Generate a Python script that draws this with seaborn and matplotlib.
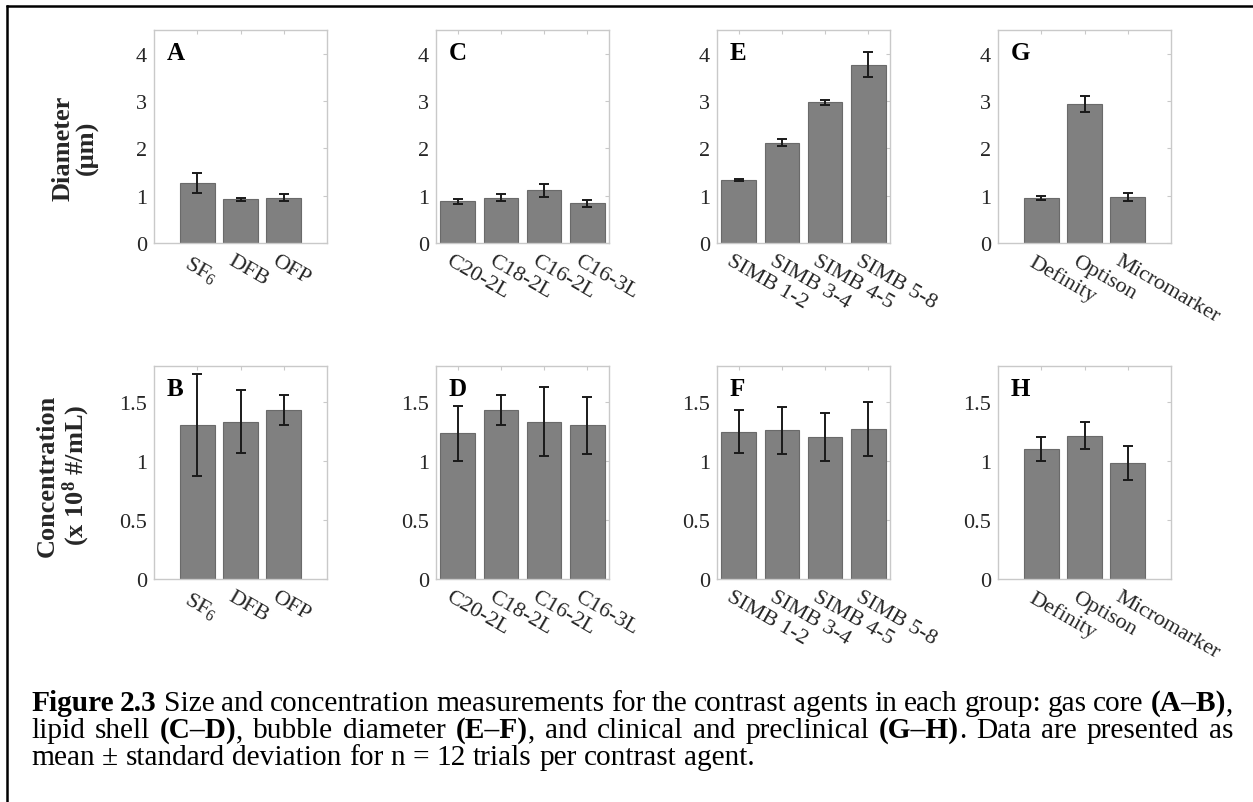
import numpy as np
import pandas as pd
import matplotlib
matplotlib.use("Agg")
import matplotlib.pyplot as plt
import seaborn as sns
from matplotlib.ticker import FuncFormatter, MultipleLocator
from matplotlib.lines import Line2D
from matplotlib.transforms import ScaledTranslation

# ---- data: mean and standard deviation per contrast agent ----
# gas core (A-B)
gas_labels = ["SF$_6$", "DFB", "OFP"]
gas_diam = [1.27, 0.92, 0.96]
gas_diam_sd = [0.21, 0.04, 0.065]
gas_conc = [1.30, 1.33, 1.43]
gas_conc_sd = [0.43, 0.265, 0.128]

# lipid shell (C-D)
lipid_labels = ["C20-2L", "C18-2L", "C16-2L", "C16-3L"]
lipid_diam = [0.88, 0.96, 1.11, 0.84]
lipid_diam_sd = [0.05, 0.065, 0.14, 0.07]
lipid_conc = [1.23, 1.43, 1.33, 1.30]
lipid_conc_sd = [0.23, 0.128, 0.29, 0.24]

# bubble diameter (E-F)
simb_labels = ["SIMB 1-2", "SIMB 3-4", "SIMB 4-5", "SIMB 5-8"]
simb_diam = [1.33, 2.12, 2.97, 3.77]
simb_diam_sd = [0.03, 0.08, 0.06, 0.265]
simb_conc = [1.245, 1.255, 1.20, 1.27]
simb_conc_sd = [0.18, 0.20, 0.20, 0.23]

# clinical and preclinical (G-H)
clin_labels = ["Definity", "Optison", "Micromarker"]
clin_diam = [0.95, 2.93, 0.97]
clin_diam_sd = [0.035, 0.17, 0.09]
clin_conc = [1.10, 1.21, 0.98]
clin_conc_sd = [0.10, 0.115, 0.145]

top_letters = ["A", "C", "E", "G"]
bottom_letters = ["B", "D", "F", "H"]
diam_label = "Diameter\n(\u03bcm)"
conc_label = "Concentration\n(x 10$^{\\mathbf{8}}$ #/mL)"

caption_lines = [
    [("Figure 2.3", "bold"),
     (" Size and concentration measurements for the contrast agents in each group: gas core ", "normal"),
     ("(A\u2013B)", "bold"), (",", "normal")],
    [("lipid shell ", "normal"), ("(C\u2013D)", "bold"), (", bubble diameter ", "normal"),
     ("(E\u2013F)", "bold"), (", and clinical and preclinical ", "normal"), ("(G\u2013H)", "bold"),
     (". Data are presented as", "normal")],
    [("mean \u00b1 standard deviation for n = 12 trials per contrast agent.", "normal")],
]

# ---- style ----
sns.set_theme(style="white")
plt.rcParams["font.family"] = ["Liberation Serif", "DejaVu Serif"]
plt.rcParams["mathtext.fontset"] = "custom"
plt.rcParams["mathtext.rm"] = "Liberation Serif"
plt.rcParams["mathtext.it"] = "Liberation Serif:italic"
plt.rcParams["mathtext.bf"] = "Liberation Serif:bold"

BAR = "#808080"
BAR_EDGE = "#6a6a6a"
SPINE = "#c9c9c9"
TICK_TXT = "#262626"
ERR = "#1a1a1a"

W, H, DPI = 1253, 803, 100
fig = plt.figure(figsize=(W / DPI, H / DPI), dpi=DPI)
fig.patch.set_facecolor("white")

col_left = [154, 436, 717, 998]
ax_w, ax_h = 173, 213
row_top = [31, 367]


def add_px_axes(left, top):
    return fig.add_axes([left / W, 1 - (top + ax_h) / H, ax_w / W, ax_h / H])


def panel(ax, labels, vals, sds, ymax, ystep, letter):
    n = len(labels)
    df = pd.DataFrame({"agent": labels, "value": vals})
    sns.barplot(data=df, x="agent", y="value", color=BAR, saturation=1, width=0.8,
                edgecolor=BAR_EDGE, linewidth=0.8, errorbar=None, ax=ax, zorder=2)
    ax.errorbar(np.arange(n), vals, yerr=sds, fmt="none", ecolor=ERR,
                elinewidth=1.4, capsize=3.6, capthick=1.4, zorder=3)
    mid = (n - 1) / 2
    ax.set_xlim(mid - 2, mid + 2)
    ax.set_ylim(0, ymax)
    ax.yaxis.set_major_locator(MultipleLocator(ystep))
    ax.yaxis.set_major_formatter(FuncFormatter(lambda v, p: f"{v:g}"))
    ax.set_xlabel("")
    ax.set_ylabel("")
    for s in ax.spines.values():
        s.set_visible(True)
        s.set_color(SPINE)
        s.set_linewidth(1.0)
    ax.tick_params(axis="both", direction="in", length=3, width=0.8, color=SPINE,
                   top=True, right=True, labelsize=16, labelcolor=TICK_TXT)
    ax.tick_params(axis="x", pad=6)
    ax.tick_params(axis="y", pad=5)
    ax.set_xticks(np.arange(n))
    ax.set_xticklabels(labels, rotation=-30, ha="left", va="top", rotation_mode="anchor")
    shift = ScaledTranslation(-6 / DPI, 0, fig.dpi_scale_trans)
    for lab in ax.get_xticklabels():
        lab.set_transform(lab.get_transform() + shift)
    ax.text(0.075, 0.864, letter, transform=ax.transAxes, fontsize=18,
            fontweight="bold", color="black", va="baseline", ha="left")


groups = [
    (gas_labels, gas_diam, gas_diam_sd, gas_conc, gas_conc_sd),
    (lipid_labels, lipid_diam, lipid_diam_sd, lipid_conc, lipid_conc_sd),
    (simb_labels, simb_diam, simb_diam_sd, simb_conc, simb_conc_sd),
    (clin_labels, clin_diam, clin_diam_sd, clin_conc, clin_conc_sd),
]

for i, (labels, d, dsd, c, csd) in enumerate(groups):
    ax_top = add_px_axes(col_left[i], row_top[0])
    panel(ax_top, labels, d, dsd, 4.5, 1, top_letters[i])
    ax_bot = add_px_axes(col_left[i], row_top[1])
    panel(ax_bot, labels, c, csd, 1.8, 0.5, bottom_letters[i])
    if i == 0:
        ax_top.set_ylabel(diam_label, fontsize=19, fontweight="bold", linespacing=1.05)
        ax_top.yaxis.set_label_coords(-0.32, 0.45)
        ax_bot.set_ylabel(conc_label, fontsize=19, fontweight="bold", linespacing=1.05)
        ax_bot.yaxis.set_label_coords(-0.36, 0.49)

# ---- figure frame (top and left rule) ----
fig.add_artist(Line2D([6.5 / W, 1.0], [1 - 7.3 / H, 1 - 7.3 / H], transform=fig.transFigure,
                      color="black", lw=1.8))
fig.add_artist(Line2D([6.5 / W, 6.5 / W], [0.0, 1 - 7.3 / H], transform=fig.transFigure,
                      color="black", lw=1.8, solid_capstyle="projecting"))

# ---- caption, justified across the text block ----
renderer = fig.canvas.get_renderer()
CAP_FS = 21.2
x_left, x_right = 31, 1233
baselines = [711, 738, 765]


def text_width(s, weight):
    t = fig.text(0, 0, s, fontsize=CAP_FS, fontweight=weight)
    w = t.get_window_extent(renderer).width
    t.remove()
    return w


space_w = text_width("x x", "normal") - text_width("xx", "normal")

for li, segs in enumerate(caption_lines):
    words, cur = [], []
    for txt, wt in segs:
        parts = txt.split(" ")
        for k, part in enumerate(parts):
            if k > 0 and cur:
                words.append(cur)
                cur = []
            if part:
                cur.append((part, wt))
    if cur:
        words.append(cur)
    widths = [[text_width(p, wt) for p, wt in w] for w in words]
    total = sum(sum(ws) for ws in widths)
    justify = li < len(caption_lines) - 1
    gap = (x_right - x_left - total) / (len(words) - 1) if justify else space_w
    x = x_left
    y = 1 - baselines[li] / H
    for w, ws in zip(words, widths):
        for (p, wt), pw in zip(w, ws):
            fig.text(x / W, y, p, fontsize=CAP_FS, fontweight=wt, color="black",
                     va="baseline", ha="left")
            x += pw
        x += gap

fig.savefig("out.png", dpi=DPI, facecolor="white")
